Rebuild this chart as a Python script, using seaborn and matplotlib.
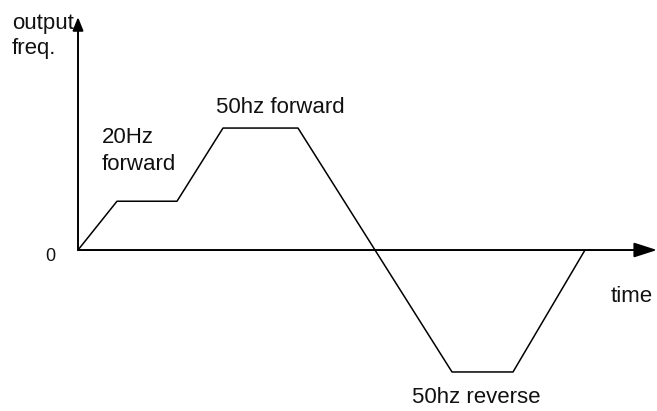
import numpy as np
import matplotlib
matplotlib.use("Agg")
import matplotlib.pyplot as plt
import seaborn as sns

# speed profile: time (arbitrary units) vs output frequency (Hz)
time = [0, 3.9, 9.9, 14.5, 22.0, 37.4, 43.5, 50.7]
freq = [0, 20, 20, 50, 50, -50, -50, 0]

sns.set_theme(style="white")
plt.rcParams['font.family'] = ['Liberation Sans', 'DejaVu Sans']

fig = plt.figure(figsize=(6.57, 4.11), dpi=100)
ax = fig.add_axes([0, 0, 1, 1])
ax.set_xlim(-7.8, 57.9)
ax.set_ylim(-66.0, 102.5)
ax.set_axis_off()

sns.lineplot(x=time, y=freq, sort=False, color="black", linewidth=1.1, ax=ax)

# axes with arrow heads
ax.annotate("", xy=(57.9, 0), xytext=(0, 0),
            arrowprops=dict(arrowstyle="-|>,head_length=14,head_width=4.5",
                            mutation_scale=1, color="black", lw=1.4,
                            shrinkA=0, shrinkB=0))
ax.annotate("", xy=(0, 95.5), xytext=(0, 0),
            arrowprops=dict(arrowstyle="-|>,head_length=8,head_width=3.2",
                            mutation_scale=1, color="black", lw=1.4,
                            shrinkA=0, shrinkB=0))

fs = 16
tc = "#111111"
ax.text(-6.6, 97.3, "output", fontsize=fs, color=tc, ha="left", va="top")
ax.text(-6.6, 87.0, "freq.", fontsize=fs, color=tc, ha="left", va="top")
ax.text(-2.8, -2.5, "0", fontsize=13, color=tc, ha="center", va="center")
ax.text(55.4, -18.9, "time", fontsize=fs, color=tc, ha="center", va="center")
ax.text(2.4, 50.3, "20Hz", fontsize=fs, color=tc, ha="left", va="top")
ax.text(2.4, 39.2, "forward", fontsize=fs, color=tc, ha="left", va="top")
ax.text(13.8, 62.6, "50hz forward", fontsize=fs, color=tc, ha="left", va="top")
ax.text(33.4, -56.3, "50hz reverse", fontsize=fs, color=tc, ha="left", va="top")

fig.savefig("out.png", dpi=100)
plt.close(fig)
